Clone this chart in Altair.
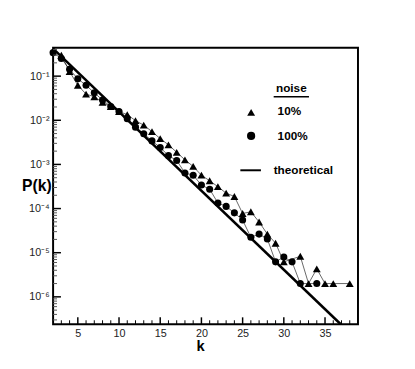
import altair as alt
import pandas as pd

# ---- data ----
k_10 = [3, 4, 5, 6, 7, 8, 9, 10, 11, 12, 13, 14, 15, 16, 17, 18, 19, 20,
        21, 22, 23, 24, 25, 26, 27, 28, 29, 30, 32, 33, 34, 35, 36, 38]
p_10 = [0.297, 0.127, 0.0621, 0.0392, 0.0341, 0.0255, 0.0205, 0.0158, 0.0134,
        0.00985, 0.00774, 0.00555, 0.00384, 0.00278, 0.00188, 0.00127, 9.0e-4,
        5.7e-4, 4.26e-4, 3.13e-4, 2.23e-4, 1.88e-4, 7.74e-5, 8.45e-5, 4.97e-5,
        2.64e-5, 1.64e-5, 6.2e-6, 8.3e-6, 2.0e-6, 4.3e-6, 2.0e-6, 2.0e-6, 2.0e-6]

k_100 = [2, 3, 4, 5, 6, 7, 8, 9, 10, 11, 12, 13, 14, 15, 16, 17, 18, 19, 20,
         21, 22, 23, 24, 25, 26, 27, 28, 29, 30, 31, 32, 34]
p_100 = [0.341, 0.251, 0.143, 0.0871, 0.0621, 0.0419, 0.0288, 0.0205, 0.0158,
         0.0109, 0.00699, 0.00496, 0.00341, 0.00242, 0.00158, 0.00123, 6.41e-4,
         5.7e-4, 3.41e-4, 2.74e-4, 1.34e-4, 1.12e-4, 8.0e-5, 5.5e-5, 2.23e-5,
         2.64e-5, 2.05e-5, 6.2e-6, 8.0e-6, 6.2e-6, 2.0e-6, 2.0e-6]

k_theory = [2, 37]
p_theory = [0.42, 2.3e-7]

x_major = [5, 10, 15, 20, 25, 30, 35]
x_minor = [k for k in range(3, 39) if k % 5 != 0]
y_major = [1e-1, 1e-2, 1e-3, 1e-4, 1e-5, 1e-6]
y_minor = [m * 10.0 ** (-n) for n in range(1, 8) for m in range(2, 10)
           if 2.4e-7 < m * 10.0 ** (-n) < 0.44]

W, H = 311, 282
FONT = "Liberation Sans"

df10 = pd.DataFrame({"k": k_10, "P": p_10})
df100 = pd.DataFrame({"k": k_100, "P": p_100})
dfth = pd.DataFrame({"k": k_theory, "P": p_theory})
dxM = pd.DataFrame({"k": x_major})
dxm = pd.DataFrame({"k": x_minor})
dyM = pd.DataFrame({"P": y_major})
dym = pd.DataFrame({"P": y_minor})
one = pd.DataFrame({"a": [0]})

xscale = alt.Scale(domain=[2, 39], nice=False, zero=False)
yscale = alt.Scale(type="log", domain=[2.4e-7, 0.44], nice=False)

xaxis = alt.Axis(values=x_major, ticks=False, domain=False, grid=False,
                 labelFont=FONT, labelFontSize=11, labelColor="#222222",
                 labelPadding=4, title="k", titleFont=FONT, titleFontSize=15,
                 titleFontWeight="bold", titleColor="black", titleX=150,
                 titleY=22, titleBaseline="middle")
yaxis = alt.Axis(values=y_major, ticks=False, domain=False, grid=False,
                 labelFont=FONT, labelFontSize=11, labelColor="#222222",
                 labelPadding=4,
                 labelExpr="'10\u207b' + ['\u2070','\u00b9','\u00b2','\u00b3','\u2074','\u2075','\u2076','\u2077'][round(-log(datum.value)/LN10)]",
                 title="P(k)", titleFont=FONT, titleFontSize=16,
                 titleFontWeight="bold", titleColor="black", titleAngle=0,
                 titleAlign="right", titleX=-2, titleY=141,
                 titleBaseline="middle")

X = alt.X("k:Q", scale=xscale, axis=xaxis)
Y = alt.Y("P:Q", scale=yscale, axis=yaxis)

line10 = alt.Chart(df10).mark_line(color="black", strokeWidth=0.6, clip=True).encode(x=X, y=Y)
line100 = alt.Chart(df100).mark_line(color="black", strokeWidth=0.6, clip=True).encode(x=X, y=Y)
theory = alt.Chart(dfth).mark_line(color="black", strokeWidth=2.6, clip=True).encode(x=X, y=Y)
pts10 = alt.Chart(df10).mark_point(shape="triangle-up", filled=True, color="black",
                                   opacity=1, size=65).encode(x=X, y=Y)
pts100 = alt.Chart(df100).mark_point(shape="circle", filled=True, color="black",
                                     opacity=1, size=52).encode(x=X, y=Y)

xtM = alt.Chart(dxM).mark_rule(color="black", strokeWidth=1.5).encode(
    x=X, y=alt.value(H), y2=alt.value(H - 7))
xtm = alt.Chart(dxm).mark_rule(color="black", strokeWidth=1).encode(
    x=X, y=alt.value(H), y2=alt.value(H - 4))
ytM = alt.Chart(dyM).mark_rule(color="black", strokeWidth=1.5).encode(
    y=Y, x=alt.value(0), x2=alt.value(8))
ytm = alt.Chart(dym).mark_rule(color="#555555", strokeWidth=1).encode(
    y=Y, x=alt.value(0), x2=alt.value(4))

# ---- legend ----
LF = dict(font=FONT, fontSize=12, fontWeight="bold", color="black")
leg_title = alt.Chart(one).mark_text(align="center", baseline="middle", **LF).encode(
    x=alt.value(243), y=alt.value(41), text=alt.value("noise"))
leg_ul = alt.Chart(one).mark_rule(color="black", strokeWidth=1.3).encode(
    x=alt.value(225), x2=alt.value(261), y=alt.value(50))
leg_tri = alt.Chart(one).mark_point(shape="triangle-up", filled=True, color="black",
                                    opacity=1, size=65).encode(
    x=alt.value(202), y=alt.value(66))
leg_tri_t = alt.Chart(one).mark_text(align="left", baseline="middle", **LF).encode(
    x=alt.value(229), y=alt.value(65), text=alt.value("10%"))
leg_cir = alt.Chart(one).mark_point(shape="circle", filled=True, color="black",
                                    opacity=1, size=70).encode(
    x=alt.value(202), y=alt.value(90))
leg_cir_t = alt.Chart(one).mark_text(align="left", baseline="middle", **LF).encode(
    x=alt.value(229), y=alt.value(90), text=alt.value("100%"))
leg_line = alt.Chart(one).mark_rule(color="black", strokeWidth=2).encode(
    x=alt.value(191), x2=alt.value(212), y=alt.value(125))
leg_line_t = alt.Chart(one).mark_text(align="left", baseline="middle", **LF).encode(
    x=alt.value(225), y=alt.value(125), text=alt.value("theoretical"))

chart = alt.layer(
    line10, line100, theory, pts10, pts100,
    xtM, xtm, ytM, ytm,
    leg_title, leg_ul, leg_tri, leg_tri_t, leg_cir, leg_cir_t, leg_line, leg_line_t,
).properties(
    width=W, height=H,
    autosize=alt.AutoSizeParams(type="none"),
    padding={"left": 46, "top": 37, "right": 50, "bottom": 34},
    background="white",
).configure_view(stroke="black", strokeWidth=2)

chart.save("out.html", embed_options={"renderer": "svg", "actions": False})
